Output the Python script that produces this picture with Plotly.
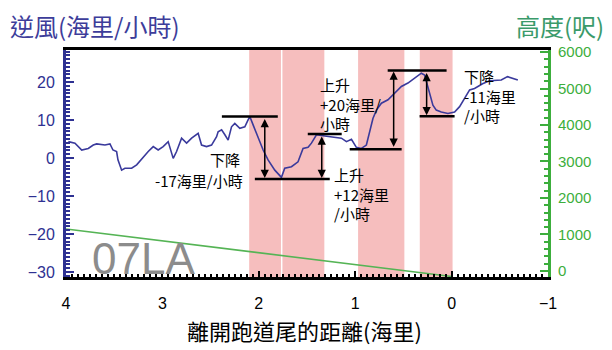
import plotly.graph_objects as go

# ---- data ----
dist = [3.976, 3.907, 3.837, 3.769, 3.717, 3.682, 3.596, 3.544, 3.513, 3.475,
        3.461, 3.423, 3.389, 3.319, 3.267, 3.199, 3.147, 3.095, 3.044, 2.992,
        2.940, 2.888, 2.853, 2.801, 2.749, 2.697, 2.629, 2.594, 2.542, 2.490,
        2.438, 2.422, 2.386, 2.352, 2.318, 2.283, 2.249, 2.197, 2.145, 2.111,
        2.093, 2.059, 2.007, 1.955, 1.904, 1.834, 1.765, 1.731, 1.661, 1.593,
        1.541, 1.489, 1.454, 1.402, 1.316, 1.233, 1.143, 1.091, 1.039, 0.988,
        0.936, 0.884, 0.832, 0.816, 0.780, 0.728, 0.660, 0.591, 0.521, 0.453,
        0.383, 0.314, 0.280, 0.228, 0.194, 0.159, 0.107, 0.038, -0.031, -0.083,
        -0.135, -0.187, -0.238, -0.321, -0.394, -0.515, -0.580, -0.635, -0.687]
headwind = [4.3, 3.9, 2.1, 2.5, 3.4, 3.7, 3.4, 3.7, 2.1, 1.7,
            -0.5, -3.2, -2.7, -2.7, -1.8, 0.3, 1.7, 3.0, 2.1, 3.0,
            4.3, -0.1, 1.7, 5.2, 3.9, 5.2, 6.5, 3.4, 3.0, 3.4,
            5.6, 6.9, 7.4, 6.1, 4.7, 8.2, 9.1, 7.8, 8.2, 10.0,
            10.9, 8.7, 5.2, 2.1, -0.5, -3.2, -5.1, -2.7, -2.3, -1.0,
            2.5, 2.8, 3.9, 6.1, 5.8, 5.5, 5.2, 4.3, 4.9, 2.8,
            2.5, 3.4, 8.2, 10.4, 12.6, 14.4, 15.3, 17.0, 18.8, 19.7,
            21.0, 22.3, 21.8, 17.4, 13.9, 12.6, 12.1, 11.7, 12.1, 13.5,
            15.7, 17.9, 18.3, 19.5, 20.3, 20.5, 21.4, 21.0, 20.5]

alt_dist = [4.0, 0.0]
altitude = [1150, -150]

band_start = [2.10, 1.755, 0.97, 0.33]
band_end = [1.77, 1.32, 0.49, -0.01]

# horizontal reference bars: (level, x from, x to)
bar_level = [10.9, -5.5, 6.3, 2.3, 23.0, 11.0]
bar_from = [2.383, 2.041, 1.492, 1.057, 0.663, 0.332]
bar_to = [1.803, 1.264, 1.140, 0.518, 0.052, -0.031]

# double arrows: (x, from, to)
arrow_x = [1.938, 1.347, 0.601, 0.259]
arrow_from = [10.9, 6.3, 2.3, 23.0]
arrow_to = [-5.5, -5.5, 23.0, 11.0]

left_ticks = [-30, -20, -10, 0, 10, 20]
right_ticks = [0, 1000, 2000, 3000, 4000, 5000, 6000]
x_ticks = [4, 3, 2, 1, 0, -1]

BLUE = "#2e3192"
LINEBLUE = "#3a3a9c"
GREEN = "#3cae3c"
CJK = "Noto Sans CJK TC"
LAT = "Liberation Sans, Arial, sans-serif"

fig = go.Figure()

fig.add_trace(go.Scatter(x=alt_dist, y=altitude, yaxis="y2", mode="lines",
                         line=dict(color="#55b455", width=1.6), showlegend=False))
fig.add_trace(go.Scatter(x=dist, y=headwind, mode="lines",
                         line=dict(color=LINEBLUE, width=1.6), showlegend=False))

shapes = []
for a, b in zip(band_start, band_end):
    shapes.append(dict(type="rect", xref="x", yref="paper", x0=a, x1=b, y0=0, y1=1,
                       fillcolor="rgba(236,120,120,0.48)", line=dict(width=0),
                       layer="below"))
for lv, a, b in zip(bar_level, bar_from, bar_to):
    shapes.append(dict(type="line", xref="x", yref="y", x0=a, x1=b, y0=lv, y1=lv,
                       line=dict(color="black", width=2.5)))
fig.update_layout(shapes=shapes)

ann = []
for xa, f, t in zip(arrow_x, arrow_from, arrow_to):
    ann.append(dict(x=xa, y=t, ax=xa, ay=f, xref="x", yref="y", axref="x", ayref="y",
                    text="", showarrow=True, arrowhead=2, arrowside="end+start",
                    arrowsize=1.1, arrowwidth=1.5, arrowcolor="black",
                    standoff=1, startstandoff=1))

tfont = dict(family=CJK, size=15, color="black")
ann.append(dict(x=2.176, y=-0.5, xref="x", yref="y", text="下降", showarrow=False,
                xanchor="right", yanchor="middle", font=tfont))
ann.append(dict(x=2.145, y=-5.8, xref="x", yref="y", text="-17海里/小時", showarrow=False,
                xanchor="right", yanchor="middle", font=tfont))
ann.append(dict(x=1.385, y=14.3, xref="x", yref="y", text="上升<br>+20海里/<br>小時",
                showarrow=False, xanchor="left", yanchor="middle", align="left", font=tfont))
ann.append(dict(x=1.240, y=-9.5, xref="x", yref="y", text="上升<br>+12海里<br>/小時",
                showarrow=False, xanchor="left", yanchor="middle", align="left", font=tfont))
ann.append(dict(x=-0.110, y=16.3, xref="x", yref="y", text="下降<br>-11海里<br>/小時",
                showarrow=False, xanchor="left", yanchor="middle", align="left", font=tfont))

ann.append(dict(x=3.75, y=-26.5, xref="x", yref="y", text="07LA", showarrow=False,
                xanchor="left", yanchor="middle",
                font=dict(family=LAT, size=44, color="#8c8c8c")))

ann.append(dict(x=8, y=325, xref="paper", yref="paper", text="逆風(海里/小時)",
                showarrow=False, xanchor="left", yanchor="middle",
                font=dict(family=CJK, size=24, color="#3d3d9a")))
fig.update_layout(annotations=ann)

# titles positioned in pixel-like paper coords
W, H = 612, 350
ML, MR, MT, MB = 66, 64, 50, 73
PW, PH = W - ML - MR, H - MT - MB


def px_to_paper(px, py):
    return (px - ML) / PW, (H - MB - py) / PH


annots = list(fig.layout.annotations)
annots[-1].update(dict(x=px_to_paper(8, 25)[0], y=px_to_paper(8, 25)[1]))
fig.layout.annotations = annots
fig.add_annotation(x=px_to_paper(606, 25)[0], y=px_to_paper(606, 25)[1],
                   xref="paper", yref="paper", text="高度(呎)", showarrow=False,
                   xanchor="right", yanchor="middle",
                   font=dict(family=CJK, size=24, color="#3a9a6a"))
fig.add_annotation(x=px_to_paper(304, 330)[0], y=px_to_paper(304, 330)[1],
                   xref="paper", yref="paper", text="離開跑道尾的距離(海里)",
                   showarrow=False, xanchor="center", yanchor="middle",
                   font=dict(family=CJK, size=22, color="black"))

fig.update_layout(
    width=W, height=H,
    margin=dict(l=ML, r=MR, t=MT, b=MB, pad=0),
    plot_bgcolor="white", paper_bgcolor="white",
    showlegend=False,
    xaxis=dict(range=[4, -1], tickvals=x_ticks, ticktext=["4", "3", "2", "1", "0", "−1"],
               ticks="inside", ticklen=6, tickwidth=1.5, tickcolor="black",
               minor=dict(ticks="inside", ticklen=3, dtick=0.0625, tickcolor="black"),
               showline=True, linecolor="black", linewidth=2.5, mirror=True,
               showgrid=False, zeroline=False, ticklabelstandoff=10,
               tickfont=dict(family=LAT, size=16, color="black")),
    yaxis=dict(range=[-31.3, 28.4], tickvals=left_ticks,
               ticks="inside", ticklen=8, tickwidth=1.5, tickcolor=BLUE,
               minor=dict(ticks="inside", ticklen=4, dtick=1, tickcolor=BLUE),
               showline=True, linecolor=BLUE, linewidth=3,
               showgrid=False, zeroline=False, ticklabelstandoff=5,
               tickfont=dict(family=LAT, size=16, color=BLUE)),
    yaxis2=dict(range=[-165, 6055], tickvals=right_ticks, overlaying="y", side="right",
                ticks="inside", ticklen=8, tickwidth=1.5, tickcolor=GREEN,
                minor=dict(ticks="inside", ticklen=4, dtick=200, tickcolor=GREEN),
                showline=True, linecolor=GREEN, linewidth=3,
                showgrid=False, zeroline=False, ticklabelstandoff=4,
                tickfont=dict(family=LAT, size=15, color=GREEN)),
)

fig.write_html("out.html")
